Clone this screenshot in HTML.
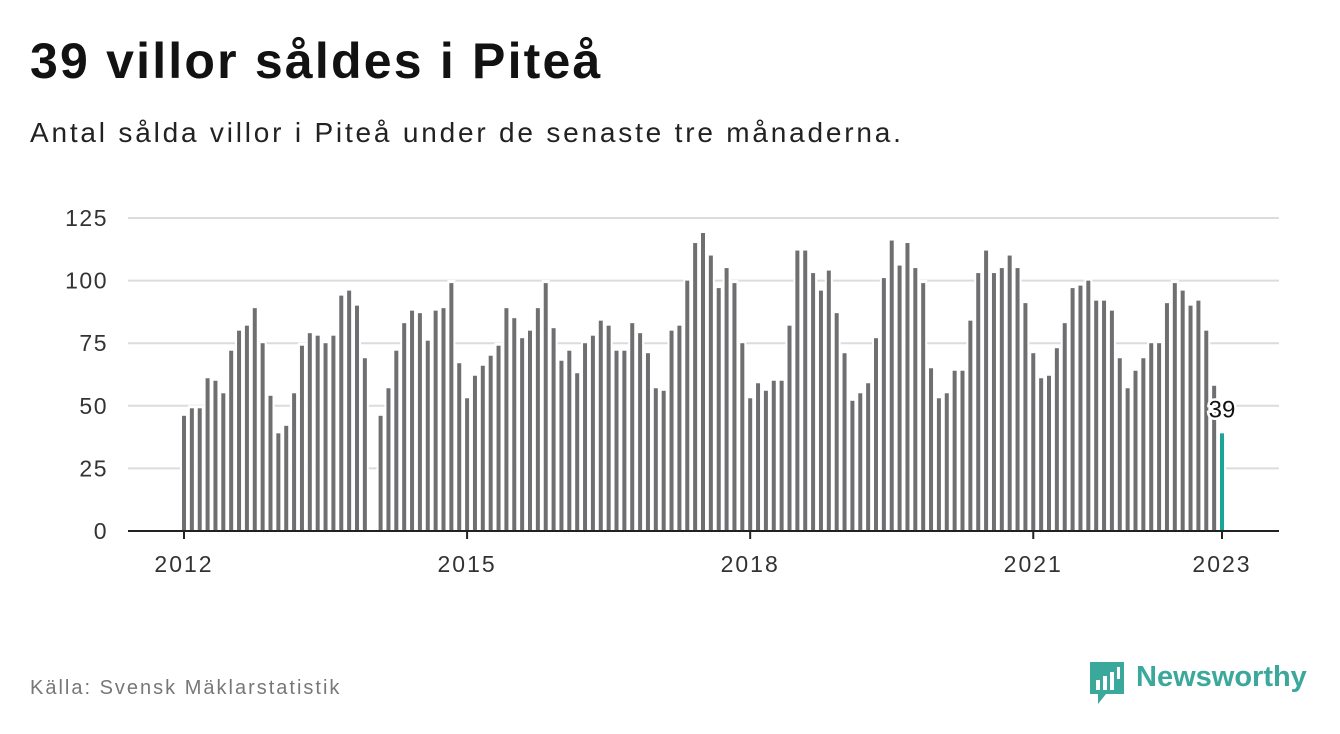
<!DOCTYPE html>
<html><head><meta charset="utf-8"><style>
body{margin:0;width:1340px;height:734px;background:#fff;font-family:"Liberation Sans",sans-serif;overflow:hidden;position:relative}
.t{position:absolute;white-space:nowrap}
</style></head><body>
<div class="t" style="left:30px;top:32px;font-size:50px;font-weight:bold;color:#121212;letter-spacing:2.2px">39 villor såldes i Piteå</div>
<div class="t" style="left:30px;top:117px;font-size:28px;color:#222;letter-spacing:2.8px">Antal sålda villor i Piteå under de senaste tre månaderna.</div>
<svg id="chart" width="1340" height="734" style="position:absolute;left:0;top:0"></svg>
<div class="t" style="left:30px;top:677px;font-size:20px;color:#777;letter-spacing:2px">Källa: Svensk Mäklarstatistik</div>
<div style="position:absolute;left:1090px;top:662px;">
<svg width="36" height="42"><path d="M0 0H34V32H16L8 42V32H0Z" fill="#3aa89a"/><rect x="6" y="18" width="4" height="10" fill="#fff"/><rect x="13" y="14" width="4" height="14" fill="#fff"/><rect x="20" y="10" width="4" height="18" fill="#fff"/><rect x="27" y="5" width="3" height="12" fill="#fff"/></svg>
<div class="t" style="left:46px;top:-1px;font-size:29px;font-weight:bold;color:#3aa89a">Newsworthy</div>
</div>
<script>
const values=[46,49,49,61,60,55,72,80,82,89,75,54,39,42,55,74,79,78,75,78,94,96,90,69,
null,46,57,72,83,88,87,76,88,89,99,67,53,
62,66,70,74,89,85,77,80,89,99,81,68,72,63,75,78,84,82,72,72,83,79,71,57,56,80,82,100,115,119,110,97,105,99,75,53,59,
56,60,60,82,112,112,103,96,104,87,71,52,55,59,77,101,116,106,115,105,99,65,53,55,64,64,84,103,112,103,
105,110,105,91,71,61,62,73,83,97,98,100,92,92,88,69,57,64,69,75,75,91,99,96,90,92,80,58,39];
const yTicks=[0,25,50,75,100,125];
const xTickLabels=["2012","2015","2018","2021","2023"];
const xTickIdx=[0,36,72,108,132];
const svg=document.getElementById('chart');
const NS='http://www.w3.org/2000/svg';
const x0=184,step=(1222-184)/132,yBase=531,yTop=218;
const xs=i=>x0+i*step;
const ys=v=>yBase-(v/125)*(yBase-yTop);
function el(t,a){const e=document.createElementNS(NS,t);for(const k in a)e.setAttribute(k,a[k]);svg.appendChild(e);return e;}
yTicks.forEach(v=>{
  if(v>0){const g=el('line',{x1:128,x2:1279,y1:ys(v),y2:ys(v),stroke:'#dcdcdc','stroke-width':2});
  
  }
  const t=el('text',{x:108,y:ys(v)+8,'text-anchor':'end','font-size':23,'letter-spacing':1.5,fill:'#333','font-family':'Liberation Sans, sans-serif'});
  t.textContent=v;
  
  
});
values.forEach((v,i)=>{
  if(v==null)return;
  const w=el('rect',{x:xs(i)-4,y:ys(v)-3,width:8,height:yBase-ys(v)+3,fill:'#fff'});
  
  
});
values.forEach((v,i)=>{
  if(v==null)return;
  const last=i===values.length-1;
  const r=el('rect',{x:xs(i)-2,y:ys(v),width:4,height:yBase-ys(v),fill:last?'#1aa597':'#6f6f71'});
  
  
});
const ax=el('line',{x1:128,x2:1279,y1:yBase,y2:yBase,stroke:'#222','stroke-width':2});


xTickIdx.forEach((idx,k)=>{
  const tk=el('line',{x1:xs(idx),x2:xs(idx),y1:yBase,y2:yBase+8,stroke:'#222','stroke-width':2});
  
  
  const t=el('text',{x:xs(idx),y:572,'text-anchor':'middle','font-size':23,'letter-spacing':2,fill:'#333','font-family':'Liberation Sans, sans-serif'});
  t.textContent=xTickLabels[k];
  
  
});
const li=values.length-1;
const lab=el('text',{x:xs(li),y:ys(values[li])-16,'text-anchor':'middle','font-size':24,fill:'#111',stroke:'#fff','stroke-width':5,'paint-order':'stroke','font-family':'Liberation Sans, sans-serif'});
lab.textContent=values[li];


</script>
</body></html>
